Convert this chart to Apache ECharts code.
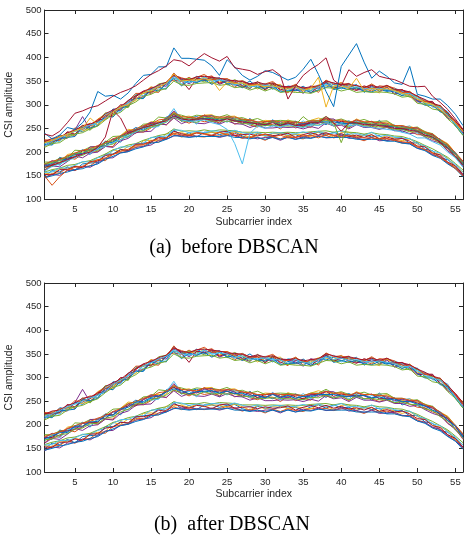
<!DOCTYPE html>
<html>
<head>
<meta charset="utf-8">
<script src="https://cdn.jsdelivr.net/npm/echarts@6/dist/echarts.min.js"></script>
<style>html,body{margin:0;padding:0;background:#fff}#c{width:464px;height:536px}</style>
</head>
<body>
<div id="c"></div>
<script>
// ---- tick labels ----
const xTicks = [5,10,15,20,25,30,35,40,45,50,55];
const captions = ['(a)  before DBSCAN', '(b)  after DBSCAN'];

// ---- upper band (kept after DBSCAN) ----
const U1 = [221,217,236,233,248,243,256,263,269,291, 289,309,313,314,335,337,333,362,354,347, 360,351,353,357,342,348,341,350,337,342, 333,341,334,331,339,329,340,337,343,344, 336,343,326,338,333,328,333,327,318,320, 302,306,287,282,258,245];
const U2 = [212,224,225,242,234,254,261,257,277,278, 298,295,318,327,328,326,346,352,349,358, 347,357,361,347,352,337,349,339,345,332, 345,333,325,343,326,338,326,347,337,343, 345,331,334,329,340,338,323,331,324,309, 310,296,299,276,264,237];
const U3 = [219,228,224,234,245,245,250,270,280,275, 296,303,309,325,338,331,344,367,341,355, 349,361,344,348,355,346,339,345,333,341, 342,343,329,329,334,333,342,341,338,347, 333,336,338,332,325,339,330,319,329,311, 308,298,298,273,261,249];
const U4 = [215,221,230,229,247,275,248,265,273,287, 288,305,314,317,332,341,339,360,353,344, 355,354,356,343,350,350,340,334,348,339, 336,338,337,333,324,340,334,349,335,340, 344,332,331,340,328,337,322,328,327,308, 307,305,289,272,262,240];
const U5 = [223,219,232,237,237,257,246,264,283,281, 297,294,321,324,326,344,347,356,351,356, 354,348,357,353,345,353,345,335,349,334, 346,337,327,342,333,330,339,351,336,335, 343,334,336,342,329,341,331,323,316,317, 301,302,296,281,255,246];
const U6 = [217,226,222,240,244,247,259,258,279,288, 286,306,323,319,336,333,335,363,344,352, 346,359,350,355,354,340,351,343,340,345, 337,329,340,337,325,336,333,342,347,333, 341,341,328,337,337,330,335,329,319,314, 311,295,294,286,257,236];
const U7 = [224,223,226,243,238,252,255,268,270,284, 300,299,317,328,324,339,343,366,351,332, 356,352,359,345,351,343,337,344,344,331, 344,331,338,336,337,325,338,347,334,342, 335,330,340,334,338,332,330,332,321,306, 307,307,287,276,266,243];
const U8 = [216,215,229,231,233,253,251,256,277,274, 293,297,313,313,333,329,344,355,340,351, 347,353,343,353,344,344,336,342,336,335, 341,327,330,330,332,326,331,346,332,336, 332,336,329,327,334,330,327,319,325,308, 299,299,285,280,256,236];
const U9 = [226,225,234,236,251,248,257,269,276,286, 291,308,324,324,337,336,348,362,357,352, 358,364,353,355,355,347,351,343,343,344, 349,337,336,343,331,337,337,352,344,346, 339,341,335,344,334,340,335,326,326,318, 307,304,293,283,263,244];
const U10 = [210,218,220,231,238,241,249,255,268,279, 284,298,306,318,322,330,334,350,342,341, 345,346,347,341,343,336,338,331,336,329, 335,326,328,326,326,324,330,336,335,329, 333,326,328,326,327,326,323,316,318,303, 301,291,288,270,256,235];
const U11 = [222,229,231,241,246,256,259,266,281,289, 296,309,319,329,334,342,347,363,355,353, 359,360,358,356,352,351,349,344,348,343, 346,339,338,340,335,338,340,350,346,342, 344,340,337,341,336,341,332,331,327,318, 311,303,298,283,266,247];
const U12 = [213,223,230,238,244,250,257,262,271,285, 295,303,312,325,331,339,345,357,350,347, 350,358,349,352,350,342,346,338,340,341, 338,337,330,338,332,330,338,344,338,341, 336,338,334,333,335,332,330,322,324,314, 304,299,294,276,259,238];

// ---- middle band ----
const M1 = [174,169,189,183,196,205,195,213,213,228, 221,241,252,246,256,256,274,280,265,272, 275,269,272,260,275,269,259,271,256,261, 255,264,258,265,253,262,266,258,268,261, 266,258,263,252,267,253,257,242,249,251, 234,239,219,215,189,177];
const M2 = [162,174,174,189,185,196,204,201,212,212, 232,232,244,242,251,265,257,273,268,261, 269,264,267,262,272,259,264,257,253,260, 258,249,261,251,256,252,265,261,256,261, 251,264,255,255,249,254,246,252,244,237, 236,227,223,203,192,169];
const M3 = [176,177,177,195,198,197,210,211,223,220, 235,248,246,256,264,264,265,285,274,276, 270,278,279,269,275,276,268,269,262,267, 266,259,268,262,261,267,272,267,268,266, 259,270,263,264,260,264,256,251,255,248, 244,234,227,218,198,179];
const M4 = [161,171,169,180,192,188,198,200,212,210, 224,229,241,243,244,259,258,272,260,266, 261,260,265,259,266,260,259,252,257,251, 251,253,252,253,249,254,250,262,255,257, 249,258,252,252,248,252,245,245,239,241, 232,224,219,203,190,171];
const M5 = [179,179,187,188,204,203,211,211,221,233, 234,245,247,259,260,274,272,281,278,273, 278,276,277,274,279,271,273,267,271,264, 266,267,266,265,261,267,267,275,266,270, 264,265,269,263,265,266,256,256,251,253, 243,239,226,216,198,180];
const M6 = [165,181,172,189,193,205,197,210,223,218, 235,231,246,256,252,254,270,292,268,271, 259,277,266,270,263,274,266,257,264,255, 269,252,263,255,266,255,264,272,256,263, 255,267,253,262,256,261,248,253,255,240, 242,229,228,208,200,171];
const M7 = [173,173,186,187,190,203,205,205,222,221, 234,240,240,253,261,260,271,279,273,264, 270,278,269,272,271,265,270,264,258,264, 265,257,265,259,255,264,263,271,260,265, 263,261,262,265,255,256,256,248,251,246, 240,237,221,213,196,173];
const M8 = [172,182,176,192,195,195,211,212,213,227, 231,244,242,254,263,261,269,287,266,274, 267,275,277,266,275,269,261,268,263,257, 267,260,257,264,259,264,260,270,270,259, 260,268,261,256,263,258,251,254,250,251, 239,235,227,209,197,178];
const M9 = [168,170,179,181,191,193,202,203,214,217, 227,233,244,245,253,257,263,274,266,265, 263,270,265,266,265,266,260,260,255,256, 257,256,255,255,253,258,257,263,257,260, 253,260,255,256,253,253,247,248,243,243, 233,230,217,208,190,173];
const M10 = [175,181,184,192,198,204,207,214,219,228, 234,244,249,256,259,268,270,283,275,273, 272,278,274,274,274,274,269,268,264,264, 266,264,264,263,262,266,266,271,266,268, 262,268,264,264,262,261,256,256,252,251, 242,238,226,216,199,181];
const M11 = [170,176,183,185,197,197,206,207,218,221, 233,237,248,249,258,261,269,276,272,266, 270,271,272,267,271,266,267,261,262,257, 264,257,262,256,260,259,264,264,264,261, 260,261,262,257,259,254,254,249,249,244, 240,231,224,209,197,174];

// ---- lower band ----
const L1 = [149,161,158,169,162,175,177,178,196,196, 206,203,216,219,221,234,230,247,234,241, 232,242,242,237,241,243,234,229,239,235, 232,239,235,237,230,238,242,235,242,236, 237,230,237,232,235,224,230,230,219,220, 206,203,188,184,171,152];
const L2 = [146,155,156,167,161,169,171,183,182,196, 199,202,213,213,221,221,231,238,232,236, 233,232,235,234,239,234,229,233,231,225, 233,228,234,230,228,235,233,235,230,234, 234,229,224,231,226,229,224,219,220,210, 205,194,191,178,168,150];
const L3 = [156,153,166,164,171,168,181,184,185,205, 201,212,209,224,225,224,239,240,241,237, 243,238,242,241,237,244,238,231,241,233, 239,240,234,238,236,233,243,240,232,241, 242,233,236,236,229,235,229,224,228,217, 212,199,195,187,168,158];
const L4 = [145,153,151,161,162,170,168,177,187,188, 199,201,210,212,215,225,227,234,236,232, 234,233,235,231,235,236,230,231,228,231, 231,225,232,227,233,230,235,230,231,236, 229,230,226,231,224,225,226,220,218,208, 205,195,190,176,166,152];
const L5 = [157,158,167,166,172,180,179,188,192,203, 211,211,218,219,231,232,234,247,246,241, 244,241,245,244,242,246,241,238,242,235, 240,241,238,239,243,239,244,239,240,245, 238,239,235,242,233,236,232,228,229,218, 213,202,198,185,174,157];
const L6 = [153,152,163,163,170,167,180,181,193,195, 205,204,217,217,221,231,228,244,239,235, 241,239,234,242,244,235,237,238,234,238, 235,236,240,231,237,241,236,241,235,239, 233,236,231,237,228,232,227,229,223,213, 211,198,194,179,171,153];
const L7 = [146,150,155,158,163,165,171,175,185,191, 198,201,207,211,219,221,227,235,233,231, 233,233,233,233,235,231,231,228,231,227, 231,227,231,227,230,229,233,231,231,231, 231,227,227,227,227,223,223,219,217,208, 203,193,187,175,165,148];
const L8 = [158,163,166,172,174,179,182,189,196,205, 209,215,218,225,230,235,238,249,244,245, 244,247,244,247,246,245,242,242,242,241, 242,241,242,241,241,243,244,245,242,245, 242,241,238,241,238,237,234,233,228,222, 214,207,198,189,176,162];

// ---- outlier / noisy curves (removed by DBSCAN) ----
const O1 = [240,228,236,252,248,262,285,328,318,320, 312,325,345,362,364,380,380,420,398,398, 396,394,382,362,395,380,362,352,360,372, 368,360,352,358,375,396,364,328,296,381, 405,429,390,356,371,360,346,343,381,322, 318,312,312,298,280,256];
const O2 = [238,234,244,262,282,287,294,298,308,318, 326,332,340,352,364,372,382,395,392,382, 396,408,399,392,402,378,375,372,364,370, 374,362,312,340,362,375,385,399,352,340, 374,360,368,374,360,356,353,346,339,338, 339,318,305,290,270,248];
const O3 = [220,225,232,238,245,250,272,258,270,285, 296,300,312,325,330,338,345,365,350,352, 352,355,352,330,348,345,346,340,342,338, 340,336,333,338,330,335,358,295,340,340, 335,356,330,335,332,334,330,324,320,312, 305,300,290,276,262,244];
const O4 = [160,170,175,182,188,196,200,206,212,220, 226,235,242,252,256,260,264,275,268,265, 266,268,262,258,248,218,175,240,255,250, 256,252,258,255,252,258,256,262,256,260, 255,258,254,252,250,248,246,242,238,230, 230,222,215,200,188,168];
const O5 = [168,172,178,184,190,196,200,210,232,288, 272,240,246,252,256,262,266,276,270,268, 270,270,268,266,270,266,264,262,260,258, 262,256,262,256,258,262,262,275,262,244, 262,262,258,258,256,254,250,250,246,244, 236,232,220,208,192,172];
const O6 = [150,130,148,162,168,170,178,184,188,195, 202,206,215,216,224,228,230,240,236,236, 240,238,236,242,236,240,232,230,236,238, 232,236,230,232,234,236,230,238,236,232, 236,232,230,230,228,228,225,222,220,212, 205,198,188,178,165,150];
const O7 = [175,178,182,190,196,200,205,210,218,224, 232,238,246,252,256,262,268,282,272,270, 270,274,272,270,272,268,268,264,262,260, 264,260,262,258,275,262,264,268,262,220, 262,262,262,260,258,258,254,252,250,246, 240,234,224,212,196,176];

// ---- colours (MATLAB default order) ----
const blue='#0072BD', orange='#D95319', yellow='#EDB120', purple='#7E2F8E', green='#77AC30', cyan='#4DBEEE', red='#A2142F';

const inliers = [
  [L1,blue],[M1,blue],[U1,blue],
  [L2,orange],[M2,orange],[U2,orange],
  [L3,yellow],[M3,yellow],[U3,yellow],
  [L4,purple],[M4,purple],[U4,purple],
  [L8,green],[M5,green],[U5,green],
  [L5,cyan],[M6,cyan],[U6,cyan],
  [L6,red],[M7,red],[U7,red],
  [L7,blue],[U8,blue],[M8,purple],[U9,orange],
  [M9,green],[U10,green],[M10,orange],[U11,red],[M11,blue],[U12,cyan]
];
const outliers = [[O6,orange],[O4,cyan],[O7,green],[O5,red],[O3,yellow],[O1,blue],[O2,red]];

const axisColor = '#262626';
const font = 'Liberation Sans, Arial, sans-serif';

function mkSeries(list, g){
  return list.map(([arr,col]) => ({
    type:'line', xAxisIndex:g*2, yAxisIndex:g*2,
    data: arr.map((v,i)=>[i+1,v]),
    symbol:'none', showSymbol:false, silent:true, animation:false,
    lineStyle:{width:1,color:col}, itemStyle:{color:col}
  }));
}

function xAx(g, top){
  return {
    type:'value', gridIndex:g, min:1, max:56, position: top?'top':'bottom',
    name: top? '' : 'Subcarrier index', nameLocation:'middle', nameGap:17,
    nameTextStyle:{color:axisColor, fontSize:10.5, fontFamily:font},
    axisLine:{show:true, onZero:false, lineStyle:{color:axisColor, width:1}},
    axisTick:{show:true, inside:true, length:4, customValues:xTicks, lineStyle:{color:axisColor}},
    axisLabel:{show:!top, customValues:xTicks, color:axisColor, fontSize:9.5, fontFamily:font, margin:5},
    splitLine:{show:false}
  };
}
function yAx(g, right){
  return {
    type:'value', gridIndex:g, min:100, max:500, interval:50, position: right?'right':'left',
    name: right? '' : 'CSI amplitude', nameLocation:'middle', nameGap:19,
    nameTextStyle:{color:axisColor, fontSize:10.5, fontFamily:font},
    axisLine:{show:true, onZero:false, lineStyle:{color:axisColor, width:1}},
    axisTick:{show:true, inside:true, length:4, lineStyle:{color:axisColor}},
    axisLabel:{show:!right, color:axisColor, fontSize:9.5, fontFamily:font, margin:3,
      showMinLabel:true, showMaxLabel:true},
    splitLine:{show:false}
  };
}

const chart = echarts.init(document.getElementById('c'), null, {renderer:'canvas'});
chart.setOption({
  animation:false,
  backgroundColor:'#fff',
  grid:[
    {left:44.5, width:418.5, top:10, height:189.5, containLabel:false, outerBoundsMode:'none'},
    {left:44.5, width:418.5, top:283, height:189, containLabel:false, outerBoundsMode:'none'}
  ],
  xAxis:[xAx(0,false), xAx(0,true), xAx(1,false), xAx(1,true)],
  yAxis:[yAx(0,false), yAx(0,true), yAx(1,false), yAx(1,true)],
  series:[].concat(mkSeries(inliers,0), mkSeries(outliers,0), mkSeries(inliers,1)),
  graphic:[
    {type:'text', x:234, y:248, style:{text:captions[0], font:'20px "Liberation Serif", "Times New Roman", serif', fill:'#000', textAlign:'center', textVerticalAlign:'middle'}},
    {type:'text', x:232, y:525, style:{text:captions[1], font:'20px "Liberation Serif", "Times New Roman", serif', fill:'#000', textAlign:'center', textVerticalAlign:'middle'}}
  ]
});
</script>
</body>
</html>
